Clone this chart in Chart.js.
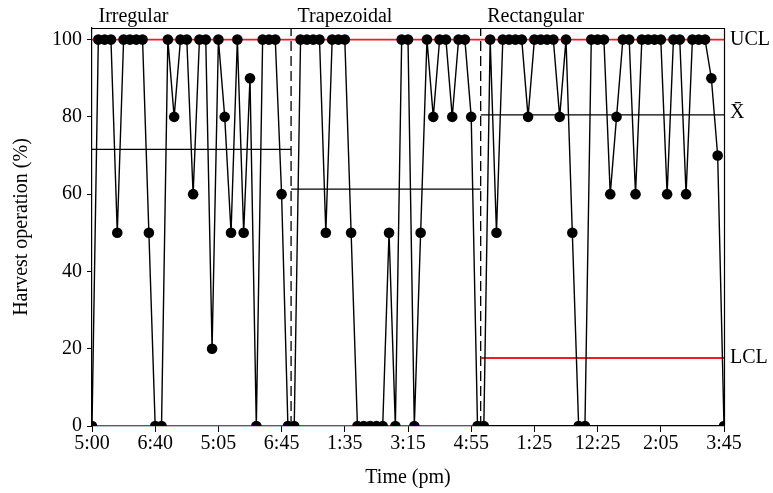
<!DOCTYPE html>
<html>
<head>
<meta charset="utf-8">
<script src="https://cdn.jsdelivr.net/npm/chart.js@4"></script>
<style>
  html, body { margin: 0; padding: 0; background: #fff; }
</style>
</head>
<body>
<canvas id="harvest" width="773" height="493"></canvas>
<script>
// harvest operation (%) per sample, one array per field shape
var irregular = [0, 100, 100, 100, 50, 100, 100, 100, 100, 50, 0, 0, 100, 80, 100, 100, 60, 100, 100, 20, 100, 80, 50, 100, 50, 90, 0, 100, 100, 100, 60, 0];
var trapezoidal = [0, 100, 100, 100, 100, 50, 100, 100, 100, 50, 0, 0, 0, 0, 0, 50, 0, 100, 100, 0, 50, 100, 80, 100, 100, 80, 100, 100, 80, 0];
var rectangular = [0, 100, 50, 100, 100, 100, 100, 80, 100, 100, 100, 100, 80, 100, 50, 0, 0, 100, 100, 100, 60, 80, 100, 100, 60, 100, 100, 100, 100, 60, 100, 100, 60, 100, 100, 100, 90, 70, 0];

var phaseNames = ["Irregular", "Trapezoidal", "Rectangular"];
var centerLines = [71.6, 61.3, 80.5];
var uclValues = [100, 100, 100];
var lclValues = [0, 0, 17.6];
var tickLabels = ["5:00", "6:40", "5:05", "6:45", "1:35", "3:15", "4:55", "1:25", "12:25", "2:05", "3:45"];

var Y_MAX = 103;

function build_points() {
  var all = irregular.concat(trapezoidal, rectangular);
  var pts = [];
  for (var i = 0; i < all.length; i++) {
    pts.push({ x: i, y: all[i] });
  }
  return pts;
}

// phase edges in sample units: start, the two breaks, end
function phase_edges() {
  var b1 = irregular.length - 0.5;
  var b2 = b1 + trapezoidal.length;
  var end = irregular.length + trapezoidal.length + rectangular.length - 1;
  return [0, b1, b2, end];
}

function segment(x0, x1, y, color, width, dash) {
  return {
    data: [{ x: x0, y: y }, { x: x1, y: y }],
    borderColor: color,
    borderWidth: width,
    borderDash: dash || [],
    pointRadius: 0,
    fill: false,
  };
}

var framePlugin = {
  id: "frame",
  afterDraw: function (chart) {
    var ctx = chart.ctx;
    var area = chart.chartArea;
    var xs = chart.scales.x;
    var ys = chart.scales.y;
    var edges = phase_edges();

    ctx.save();
    ctx.strokeStyle = "#000";
    ctx.lineWidth = 1.2;
    ctx.beginPath();
    ctx.moveTo(area.left, area.top + 0.5);
    ctx.lineTo(area.right + 0.5, area.top + 0.5);
    ctx.lineTo(area.right + 0.5, area.bottom);
    ctx.stroke();

    ctx.fillStyle = "#000";
    ctx.font = "20px 'Liberation Serif', 'Times New Roman', serif";
    ctx.textBaseline = "alphabetic";
    ctx.textAlign = "left";
    for (var p = 0; p < phaseNames.length; p++) {
      ctx.fillText(phaseNames[p], xs.getPixelForValue(edges[p]) + 6.5, 21.5);
    }

    ctx.textBaseline = "middle";
    var last = phaseNames.length - 1;
    ctx.fillText("UCL", area.right + 6, ys.getPixelForValue(uclValues[last]));
    ctx.fillText("X\u0304", area.right + 6, ys.getPixelForValue(centerLines[last]) - 2);
    ctx.fillText("LCL", area.right + 6, ys.getPixelForValue(lclValues[last]));
    ctx.restore();
  },
};

function make_chart() {
  Chart.defaults.font.family = "'Liberation Serif', 'Times New Roman', serif";
  Chart.defaults.font.size = 20;
  Chart.defaults.color = "#000";

  var edges = phase_edges();
  var datasets = [];

  datasets.push({
    data: build_points(),
    borderColor: "#000",
    borderWidth: 1.4,
    pointRadius: 5.3,
    pointBackgroundColor: "#000",
    pointBorderWidth: 0,
    clip: 0,
    fill: false,
  });

  for (var p = 0; p < 3; p++) {
    datasets.push(segment(edges[p], edges[p + 1], centerLines[p], "#000", 1.3));
    datasets.push(segment(edges[p], edges[p + 1], uclValues[p], "#ee1c24", 1.8));
    datasets.push(segment(edges[p], edges[p + 1], lclValues[p], "#ee1c24", 1.8));
  }

  // dashed separators between field shapes
  for (var b = 1; b <= 2; b++) {
    datasets.push({
      data: [{ x: edges[b], y: 0 }, { x: edges[b], y: Y_MAX }],
      borderColor: "#000",
      borderWidth: 1.3,
      borderDash: [10, 5],
      pointRadius: 0,
      fill: false,
    });
  }

  var config = {
    type: "line",
    data: { datasets: datasets },
    options: {
      responsive: false,
      animation: false,
      layout: { padding: { top: 28, right: 49, left: 0, bottom: 0 } },
      plugins: {
        legend: { display: false },
        tooltip: { enabled: false },
      },
      scales: {
        x: {
          type: "linear",
          min: 0,
          max: 100,
          grid: { drawOnChartArea: false, tickLength: 6, color: "#000" },
          border: { color: "#000", width: 1.2 },
          ticks: {
            stepSize: 10,
            padding: 0,
            maxRotation: 0,
            callback: function (value) {
              return tickLabels[Math.round(value / 10)];
            },
          },
          title: { display: true, text: "Time (pm)", padding: { top: 0, bottom: 3 } },
          afterFit: function (scale) {
            scale.height = 67;
            scale.paddingLeft = 0;
            scale.paddingRight = 0;
          },
        },
        y: {
          min: 0,
          max: Y_MAX,
          grid: { drawOnChartArea: false, tickLength: 5, color: "#000" },
          border: { color: "#000", width: 1.2 },
          ticks: { stepSize: 20, padding: 5, includeBounds: false },
          title: { display: true, text: "Harvest operation (%)", padding: { top: 10, bottom: 0 } },
          afterFit: function (scale) {
            scale.width = 92;
            scale.paddingTop = 0;
            scale.paddingBottom = 0;
          },
        },
      },
    },
    plugins: [framePlugin],
  };

  var canvas = document.getElementById("harvest");
  canvas.chart = new Chart(canvas.getContext("2d"), config);
}

make_chart();
</script>
</body>
</html>
